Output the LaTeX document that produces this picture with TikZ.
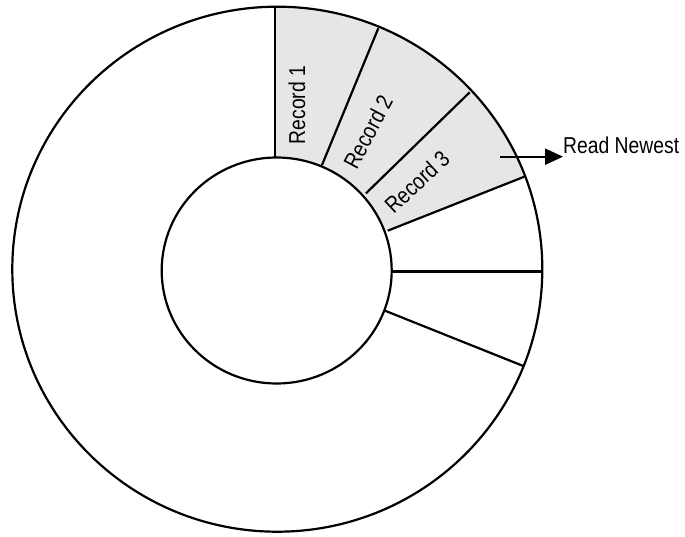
\documentclass[tikz,border=0pt]{standalone}
\usepackage{fontspec}
\setmainfont{Liberation Sans}[FakeStretch=0.84]
\usetikzlibrary{arrows.meta}
\definecolor{recgray}{RGB}{230,230,230}
\tikzset{
  ring/.style={line width=2.2pt, draw=black},
  divider/.style={line width=2.2pt, draw=black},
  reclabel/.style={inner sep=0pt, font=\fontsize{23}{27}\selectfont},
  pointer/.style={line width=2.2pt, -{Triangle[length=18pt,width=16pt]}}
}
\begin{document}
\begin{tikzpicture}[x=1pt,y=1pt]
\useasboundingbox (0,0) rectangle (685,536);
% centres
\coordinate (oc) at (277.3,266.8);
\coordinate (ic) at (276.7,265.5);
% divider end points
\coordinate (l1o) at (275,529.3);   \coordinate (l1i) at (275,378.3);
\coordinate (l2o) at (378.3,507.7); \coordinate (l2i) at (322,371);
\coordinate (l3o) at (469.7,443.7); \coordinate (l3i) at (366,342.7);
\coordinate (l4o) at (524.3,359.3); \coordinate (l4i) at (387.7,305.3);
\coordinate (l5o) at (542.3,264.5); \coordinate (l5i) at (391.7,264.5);
\coordinate (l6o) at (523.3,170);   \coordinate (l6i) at (385,225.3);
% gray record sectors
\begin{scope}
  \clip (oc) ellipse [x radius=265, y radius=262.5];
  \fill[recgray] (l1i) -- (275,540) -- (620,540) -- (600,389) -- (l4i) -- cycle;
\end{scope}
\fill[white] (ic) ellipse [x radius=115, y radius=113];
% rings
\draw[ring] (oc) ellipse [x radius=265, y radius=262.5];
\draw[ring] (ic) ellipse [x radius=115, y radius=113];
% dividers
\draw[divider] (l1i) -- (l1o);
\draw[divider] (l2i) -- (l2o);
\draw[divider] (l3i) -- (l3o);
\draw[divider] (l4i) -- (l4o);
\draw[divider] (l5i) -- (l5o);
\draw[divider] (l6i) -- (l6o);
% labels
\node[reclabel, rotate=90] (r1) at (297,431) {Record 1};
\node[reclabel, rotate=62] (r2) at (368,404) {Record 2};
\node[reclabel, rotate=43] (r3) at (417,354) {Record 3};
\node[reclabel, anchor=base west] (rn) at (563,382.7) {Read Newest};
% pointer
\coordinate (ps) at (500,379.3);
\coordinate (pe) at (563,379.3);
\draw[pointer] (ps) -- (pe);
\end{tikzpicture}
\end{document}
